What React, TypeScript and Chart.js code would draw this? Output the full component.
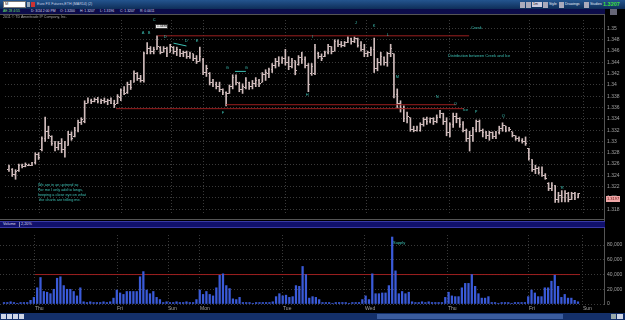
import React, { useEffect, useRef } from 'react';
import { Chart, registerables } from 'chart.js';
Chart.register(...registerables);

// ---------- DATA (hourly bars, Euro FX futures) ----------
const highs = [
  1.3258, 1.3252, 1.3250, 1.3260, 1.3260, 1.3262, 1.3260, 1.3263, 1.3280, 1.3280,
  1.3308, 1.3343, 1.3327, 1.3310, 1.3300, 1.3300, 1.3305, 1.3300, 1.3318, 1.3317,
  1.3325, 1.3338, 1.3342, 1.3372, 1.3377, 1.3375, 1.3377, 1.3378, 1.3375, 1.3377,
  1.3375, 1.3377, 1.3373, 1.3383, 1.3393, 1.3397, 1.3405, 1.3408, 1.3425, 1.3422,
  1.3417, 1.3458, 1.3475, 1.3468, 1.3467, 1.3487, 1.3468, 1.3468, 1.3467, 1.3472,
  1.3468, 1.3467, 1.3463, 1.3460, 1.3460, 1.3458, 1.3455, 1.3452, 1.3467, 1.3447,
  1.3435, 1.3422, 1.3410, 1.3405, 1.3405, 1.3393, 1.3388, 1.3400, 1.3418, 1.3418,
  1.3405, 1.3402, 1.3413, 1.3405, 1.3408, 1.3413, 1.3410, 1.3422, 1.3427, 1.3430,
  1.3438, 1.3447, 1.3450, 1.3450, 1.3463, 1.3450, 1.3447, 1.3443, 1.3452, 1.3458,
  1.3450, 1.3438, 1.3438, 1.3472, 1.3458, 1.3455, 1.3460, 1.3472, 1.3468, 1.3480,
  1.3480, 1.3477, 1.3477, 1.3485, 1.3483, 1.3485, 1.3483, 1.3477, 1.3472, 1.3460,
  1.3467, 1.3483, 1.3447, 1.3458, 1.3450, 1.3458, 1.3472, 1.3455, 1.3393, 1.3372,
  1.3363, 1.3352, 1.3342, 1.3327, 1.3327, 1.3333, 1.3342, 1.3343, 1.3342, 1.3342,
  1.3347, 1.3355, 1.3350, 1.3342, 1.3333, 1.3350, 1.3350, 1.3342, 1.3335, 1.3322,
  1.3318, 1.3325, 1.3338, 1.3338, 1.3322, 1.3318, 1.3318, 1.3317, 1.3318, 1.3327,
  1.3333, 1.3327, 1.3325, 1.3317, 1.3310, 1.3308, 1.3305, 1.3308, 1.3288, 1.3268,
  1.3258, 1.3255, 1.3255, 1.3243, 1.3227, 1.3227, 1.3222, 1.3210, 1.3213, 1.3213,
  1.3210, 1.3210, 1.3210, 1.3208,
];
const lows = [
  1.3247, 1.3238, 1.3233, 1.3247, 1.3253, 1.3255, 1.3257, 1.3257, 1.3260, 1.3268,
  1.3283, 1.3300, 1.3305, 1.3293, 1.3283, 1.3285, 1.3280, 1.3272, 1.3293, 1.3302,
  1.3308, 1.3317, 1.3330, 1.3333, 1.3368, 1.3367, 1.3370, 1.3368, 1.3367, 1.3368,
  1.3365, 1.3367, 1.3360, 1.3367, 1.3372, 1.3383, 1.3385, 1.3392, 1.3405, 1.3408,
  1.3405, 1.3405, 1.3455, 1.3455, 1.3455, 1.3463, 1.3455, 1.3458, 1.3450, 1.3458,
  1.3455, 1.3452, 1.3450, 1.3450, 1.3447, 1.3447, 1.3443, 1.3438, 1.3442, 1.3418,
  1.3415, 1.3400, 1.3397, 1.3393, 1.3388, 1.3383, 1.3363, 1.3385, 1.3393, 1.3400,
  1.3388, 1.3385, 1.3393, 1.3392, 1.3393, 1.3397, 1.3397, 1.3405, 1.3408, 1.3413,
  1.3422, 1.3430, 1.3433, 1.3438, 1.3435, 1.3427, 1.3430, 1.3418, 1.3435, 1.3438,
  1.3430, 1.3388, 1.3417, 1.3418, 1.3447, 1.3443, 1.3450, 1.3455, 1.3455, 1.3460,
  1.3468, 1.3467, 1.3468, 1.3475, 1.3472, 1.3475, 1.3467, 1.3460, 1.3450, 1.3450,
  1.3452, 1.3422, 1.3425, 1.3435, 1.3435, 1.3433, 1.3450, 1.3377, 1.3360, 1.3352,
  1.3335, 1.3333, 1.3318, 1.3317, 1.3318, 1.3318, 1.3327, 1.3330, 1.3333, 1.3330,
  1.3333, 1.3342, 1.3330, 1.3310, 1.3308, 1.3325, 1.3333, 1.3325, 1.3317, 1.3300,
  1.3283, 1.3300, 1.3317, 1.3317, 1.3308, 1.3305, 1.3302, 1.3305, 1.3305, 1.3313,
  1.3318, 1.3317, 1.3318, 1.3308, 1.3302, 1.3300, 1.3297, 1.3293, 1.3267, 1.3247,
  1.3243, 1.3242, 1.3238, 1.3233, 1.3213, 1.3213, 1.3192, 1.3192, 1.3193, 1.3193,
  1.3193, 1.3197, 1.3197, 1.3200,
];
const opens = [
  1.3250, 1.3250, 1.3242, 1.3248, 1.3257, 1.3255, 1.3258, 1.3258, 1.3262, 1.3277,
  1.3285, 1.3305, 1.3318, 1.3308, 1.3297, 1.3290, 1.3297, 1.3285, 1.3293, 1.3313,
  1.3308, 1.3320, 1.3333, 1.3335, 1.3368, 1.3372, 1.3370, 1.3375, 1.3370, 1.3373,
  1.3370, 1.3372, 1.3368, 1.3367, 1.3378, 1.3390, 1.3387, 1.3400, 1.3405, 1.3420,
  1.3412, 1.3408, 1.3455, 1.3465, 1.3460, 1.3463, 1.3467, 1.3458, 1.3465, 1.3458,
  1.3467, 1.3460, 1.3462, 1.3455, 1.3457, 1.3450, 1.3455, 1.3447, 1.3442, 1.3445,
  1.3422, 1.3420, 1.3405, 1.3400, 1.3397, 1.3392, 1.3387, 1.3385, 1.3397, 1.3413,
  1.3403, 1.3392, 1.3395, 1.3405, 1.3397, 1.3403, 1.3408, 1.3405, 1.3418, 1.3420,
  1.3427, 1.3435, 1.3442, 1.3440, 1.3447, 1.3440, 1.3433, 1.3443, 1.3437, 1.3448,
  1.3445, 1.3435, 1.3420, 1.3420, 1.3455, 1.3450, 1.3450, 1.3457, 1.3468, 1.3460,
  1.3477, 1.3472, 1.3470, 1.3475, 1.3482, 1.3477, 1.3483, 1.3470, 1.3463, 1.3455,
  1.3458, 1.3462, 1.3430, 1.3440, 1.3448, 1.3440, 1.3455, 1.3455, 1.3383, 1.3368,
  1.3358, 1.3340, 1.3342, 1.3322, 1.3320, 1.3320, 1.3330, 1.3338, 1.3335, 1.3340,
  1.3335, 1.3343, 1.3350, 1.3335, 1.3315, 1.3330, 1.3345, 1.3340, 1.3330, 1.3320,
  1.3305, 1.3310, 1.3322, 1.3335, 1.3320, 1.3315, 1.3310, 1.3315, 1.3308, 1.3315,
  1.3323, 1.3328, 1.3320, 1.3317, 1.3310, 1.3305, 1.3302, 1.3300, 1.3288, 1.3268,
  1.3250, 1.3252, 1.3245, 1.3240, 1.3225, 1.3217, 1.3222, 1.3197, 1.3205, 1.3200,
  1.3208, 1.3198, 1.3207, 1.3200,
];
const closes = [
  1.3255, 1.3242, 1.3247, 1.3257, 1.3255, 1.3260, 1.3258, 1.3262, 1.3277, 1.3272,
  1.3305, 1.3318, 1.3310, 1.3297, 1.3290, 1.3297, 1.3285, 1.3290, 1.3313, 1.3305,
  1.3320, 1.3333, 1.3338, 1.3368, 1.3372, 1.3370, 1.3375, 1.3370, 1.3373, 1.3370,
  1.3372, 1.3368, 1.3365, 1.3380, 1.3390, 1.3385, 1.3400, 1.3395, 1.3420, 1.3412,
  1.3408, 1.3455, 1.3465, 1.3460, 1.3463, 1.3468, 1.3458, 1.3465, 1.3455, 1.3468,
  1.3460, 1.3463, 1.3455, 1.3457, 1.3450, 1.3455, 1.3447, 1.3442, 1.3450, 1.3422,
  1.3430, 1.3405, 1.3400, 1.3397, 1.3392, 1.3387, 1.3385, 1.3397, 1.3413, 1.3405,
  1.3392, 1.3397, 1.3408, 1.3397, 1.3403, 1.3408, 1.3402, 1.3418, 1.3422, 1.3427,
  1.3435, 1.3442, 1.3438, 1.3447, 1.3440, 1.3433, 1.3443, 1.3425, 1.3448, 1.3445,
  1.3435, 1.3400, 1.3432, 1.3467, 1.3450, 1.3447, 1.3457, 1.3468, 1.3460, 1.3477,
  1.3472, 1.3470, 1.3475, 1.3482, 1.3477, 1.3483, 1.3470, 1.3463, 1.3455, 1.3458,
  1.3462, 1.3430, 1.3440, 1.3450, 1.3440, 1.3455, 1.3465, 1.3383, 1.3368, 1.3358,
  1.3340, 1.3345, 1.3322, 1.3320, 1.3325, 1.3330, 1.3338, 1.3335, 1.3340, 1.3335,
  1.3343, 1.3350, 1.3335, 1.3315, 1.3330, 1.3345, 1.3340, 1.3330, 1.3320, 1.3305,
  1.3310, 1.3322, 1.3335, 1.3320, 1.3315, 1.3310, 1.3315, 1.3308, 1.3315, 1.3323,
  1.3328, 1.3320, 1.3322, 1.3310, 1.3305, 1.3302, 1.3300, 1.3297, 1.3270, 1.3250,
  1.3252, 1.3245, 1.3240, 1.3235, 1.3217, 1.3222, 1.3197, 1.3205, 1.3200, 1.3208,
  1.3198, 1.3207, 1.3200, 1.3207,
];
const volumes = [
  2000, 2000, 3000, 2000, 1000, 2000, 2000, 2000, 5000, 9000,
  22000, 36000, 17000, 16000, 14000, 20000, 35000, 37000, 25000, 20000,
  20000, 17000, 11000, 22000, 3000, 2000, 3000, 2000, 2000, 2000,
  3000, 2000, 3000, 8000, 19000, 15000, 13000, 17000, 17000, 17000,
  17000, 37000, 44000, 19000, 14000, 17000, 9000, 6000, 2000, 3000,
  2000, 2000, 3000, 2000, 2000, 3000, 2000, 2000, 6000, 19000,
  13000, 17000, 13000, 11000, 22000, 39000, 41000, 25000, 21000, 7000,
  6000, 9000, 2000, 2000, 2000, 1000, 2000, 2000, 2000, 2000,
  2000, 3000, 10000, 14000, 11000, 12000, 9000, 10000, 25000, 24000,
  51000, 40000, 8000, 10000, 9000, 6000, 2000, 2000, 2000, 1000,
  2000, 2000, 2000, 2000, 1000, 2000, 2000, 2000, 6000, 11000,
  6000, 41000, 14000, 14000, 15000, 15000, 25000, 91000, 45000, 14000,
  17000, 14000, 16000, 3000, 2000, 2000, 3000, 2000, 3000, 2000,
  2000, 2000, 2000, 9000, 16000, 11000, 10000, 10000, 22000, 28000,
  28000, 40000, 24000, 14000, 8000, 8000, 10000, 2000, 2000, 1000,
  2000, 2000, 2000, 1000, 2000, 2000, 2000, 2000, 10000, 19000,
  15000, 10000, 10000, 22000, 22000, 31000, 39000, 24000, 9000, 13000,
  8000, 8000, 5000, 3000,
];
// session starts (in bar-index units) and their labels
const dayBreaks = [9.34, 34.06, 49.43, 59.07, 84.09, 108.8, 133.82, 158.23, 174.51];
const dayLabels = ['Thu', 'Fri', 'Sun', 'Mon', 'Tue', 'Wed', 'Thu', 'Fri', 'Sun'];
const priceTicks = [1.318, 1.32, 1.322, 1.324, 1.326, 1.328, 1.33, 1.332, 1.334, 1.336, 1.338, 1.34, 1.342, 1.344, 1.346, 1.348, 1.35];
const volumeTicks = [0, 20000, 40000, 60000, 80000];
// drawn levels: [startIndex, endIndex, price]
const creekLine = [45.2, 139.85, 1.3487];
const upperIceLine = [66.0, 135.9, 1.3365];
const iceLine = [32.55, 138.3, 1.3358];
const dLine = [50.0, 53.95, 1.3474, 1.3469];
const gLine = [68.7, 72.0, 1.3424, 1.3424];
const volumeLevel = [9.34, 173.6, 40000];

const FONT = "'Liberation Sans', Arial, sans-serif";
const BAR = '#d0bcbc';
const GRID = '#3a3a3a';
const RED = '#9c1f1f';
const TEAL = '#3cc0b4';
const X_MIN = -1.2056;
const X_MAX = 180.84;

function tickImg(side: 'l' | 'r') {
  const c = document.createElement('canvas');
  c.width = 3; c.height = 1;
  const g = c.getContext('2d')!;
  g.fillStyle = BAR;
  g.fillRect(side === 'l' ? 0 : 2, 0, 1, 1);
  return c;
}

function xScale(showLabels: boolean, h: number) {
  return {
    type: 'linear', min: X_MIN, max: X_MAX, offset: false,
    afterBuildTicks: (s: any) => { s.ticks = dayBreaks.map(v => ({ value: v })); },
    afterFit: (s: any) => { s.height = h; },
    ticks: {
      display: showLabels, autoSkip: false, maxRotation: 0, align: 'start', padding: 2,
      color: '#a0a0a0', font: { size: 5, family: FONT },
      callback: (_v: any, i: number) => dayLabels[i],
    },
    grid: { color: GRID, drawTicks: false, offset: false },
    border: { display: false, dash: [1, 2] },
  };
}

function PriceChart() {
  const ref = useRef<HTMLCanvasElement>(null);
  useEffect(() => {
    const seg = (a: number[], color: string) => ({
      type: 'line', data: [{ x: a[0], y: a[2] }, { x: a[1], y: a.length > 3 ? a[3] : a[2] }],
      borderColor: color, borderWidth: 1, pointRadius: 0, fill: false,
    });
    const chart = new Chart(ref.current!, {
      type: 'scatter',
      data: {
        datasets: [
          seg(creekLine, RED), seg(upperIceLine, RED), seg(iceLine, RED),
          seg(dLine, TEAL), seg(gLine, TEAL),
          { type: 'bar', data: highs.map((h, i) => ({ x: i, y: [lows[i], h] })), backgroundColor: BAR, barThickness: 1, borderWidth: 0 },
          { type: 'line', showLine: false, data: opens.map((v, i) => ({ x: i, y: v })), pointStyle: tickImg('l'), pointRadius: 1 },
          { type: 'line', showLine: false, data: closes.map((v, i) => ({ x: i, y: v })), pointStyle: tickImg('r'), pointRadius: 1 },
        ] as any,
      },
      options: {
        animation: false, responsive: false, devicePixelRatio: 1, events: [],
        layout: { padding: 0 },
        plugins: { legend: { display: false }, tooltip: { enabled: false } },
        scales: {
          x: xScale(false, 0) as any,
          y: {
            position: 'right', min: 1.31733, max: 1.3515,
            afterBuildTicks: (s: any) => { s.ticks = priceTicks.map(v => ({ value: v })); },
            afterFit: (s: any) => { s.width = 21; },
            ticks: { color: '#a0a0a0', font: { size: 5, family: FONT }, padding: 3, autoSkip: false, callback: (v: any) => String(v) },
            grid: { color: GRID, drawTicks: false },
            border: { display: false, dash: [1, 2] },
          },
        },
      } as any,
    });
    return () => chart.destroy();
  }, []);
  return <canvas ref={ref} width={625} height={205} style={{ position: 'absolute', left: 0, top: 14, width: 625, height: 205 }} />;
}

function VolumeChart() {
  const ref = useRef<HTMLCanvasElement>(null);
  useEffect(() => {
    const chart = new Chart(ref.current!, {
      type: 'scatter',
      data: {
        datasets: [
          { type: 'bar', data: volumes.map((v, i) => ({ x: i, y: v })), backgroundColor: '#3a5ad8', barThickness: 1.6, borderWidth: 0 },
          { type: 'line', data: [{ x: volumeLevel[0], y: volumeLevel[2] }, { x: volumeLevel[1], y: volumeLevel[2] }], borderColor: RED, borderWidth: 1, pointRadius: 0 },
        ] as any,
      },
      options: {
        animation: false, responsive: false, devicePixelRatio: 1, events: [],
        layout: { padding: 0 },
        plugins: { legend: { display: false }, tooltip: { enabled: false } },
        scales: {
          x: xScale(true, 9) as any,
          y: {
            position: 'right', min: 0, max: 93750,
            afterBuildTicks: (s: any) => { s.ticks = volumeTicks.map(v => ({ value: v })); },
            afterFit: (s: any) => { s.width = 21; },
            ticks: { color: '#a0a0a0', font: { size: 5, family: FONT }, padding: 3, autoSkip: false, callback: (v: any) => Number(v).toLocaleString('en-US') },
            grid: { color: GRID, drawTicks: false },
            border: { display: false, dash: [1, 2] },
          },
        },
      } as any,
    });
    return () => chart.destroy();
  }, []);
  return <canvas ref={ref} width={625} height={84} style={{ position: 'absolute', left: 0, top: 229, width: 625, height: 84 }} />;
}

const T = ({ x, y, s = 4, c = TEAL, b = false, children }: any) => (
  <div style={{ position: 'absolute', left: x, top: y, fontSize: s, lineHeight: 1, color: c, whiteSpace: 'pre', fontWeight: b ? 'bold' : 'normal' }}>{children}</div>
);
const Box = ({ x, y, w, h, bg, bd }: any) => (
  <div style={{ position: 'absolute', left: x, top: y, width: w, height: h, background: bg, border: bd ? `1px solid ${bd}` : undefined, boxSizing: 'border-box' }} />
);

const letters: [string, number, number][] = [
  ['A', 143, 33], ['B', 149, 33], ['C', 154, 20], ['D', 165, 37], ['D', 186, 41], ['E', 197, 41],
  ['F', 223, 113], ['G', 227, 68], ['G', 246, 68], ['H', 307, 95], ['I', 313, 37], ['J', 356, 23],
  ['K', 374, 26], ['L', 388, 35], ['M', 397, 77], ['N', 437, 97], ['O', 455, 104], ['P', 476, 112],
  ['Q', 503, 116], ['R', 562, 188],
];

export default function App() {
  return (
    <div style={{ position: 'fixed', left: 0, top: 0, width: 625, height: 320, background: '#000', overflow: 'hidden', fontFamily: FONT }}>
      {/* top toolbar */}
      <div style={{ position: 'absolute', left: 0, top: 0, width: 625, height: 9, background: 'linear-gradient(#24558f, #0e2d58)' }} />
      <Box x={3} y={1} w={23} h={7} bg="#fff" bd="#777" />
      <T x={5} y={2} s={4} c="#222">M</T>
      <Box x={27} y={2} w={3} h={5} bg="#9ab" />
      <Box x={31} y={2} w={4} h={5} bg="#c33" />
      <T x={37} y={2.5} s={3.6} c="#c9d3e6">Euro FX Futures,ETH (MAR14) (2)</T>
      <Box x={520} y={1.5} w={5} h={6} bg="#aab" />
      <Box x={526} y={1.5} w={5} h={6} bg="#aab" />
      <Box x={532} y={2} w={10} h={5} bg="#ccd" />
      <T x={533} y={2.5} s={3.5} c="#222">1m</T>
      <Box x={543} y={1.5} w={5} h={6} bg="#aab" />
      <T x={549} y={2.5} s={3.5} c="#e8eef8">Style</T>
      <Box x={559} y={1.5} w={5} h={6} bg="#aab" />
      <T x={565} y={2.5} s={3.5} c="#e8eef8">Drawings</T>
      <Box x={584} y={1.5} w={5} h={6} bg="#aab" />
      <T x={590} y={2.5} s={3.5} c="#e8eef8">Studies</T>
      <T x={603} y={1.5} s={5.5} c="#3fe03f" b>1.3207</T>
      {/* info row */}
      <div style={{ position: 'absolute', left: 0, top: 9, width: 605, height: 5, background: '#0c0c4a' }} />
      <T x={3} y={9.7} s={3.4} c="#6fe06f">AE 28 4:55</T>
      <T x={31} y={9.7} s={3.4} c="#dde">D: 3/24 2:00 PM</T>
      <T x={60} y={9.7} s={3.4} c="#dde">O: 1.3200</T>
      <T x={80} y={9.7} s={3.4} c="#dde">H: 1.3207</T>
      <T x={100} y={9.7} s={3.4} c="#dde">L: 1.3196</T>
      <T x={120} y={9.7} s={3.4} c="#dde">C: 1.3207</T>
      <T x={140} y={9.7} s={3.4} c="#dde">R: 0.0011</T>
      <Box x={610} y={9} w={7} h={6} bg="#667" />

      <PriceChart />
      <VolumeChart />

      {/* frame lines */}
      <Box x={0} y={14} w={605} h={1} bg="#555" />
      <Box x={604} y={14} w={1} h={291} bg="#555" />
      <Box x={0} y={219} w={605} h={1} bg="#555" />
      <T x={3} y={16} s={3.6} c="#a8a8a8">2011 © TD Ameritrade IP Company, Inc.</T>

      {/* volume header */}
      <div style={{ position: 'absolute', left: 0, top: 221, width: 605, height: 7, background: '#10106c', borderTop: '1px solid #3a3aa6', borderBottom: '1px solid #3a3aa6', boxSizing: 'border-box' }} />
      <T x={3} y={222.6} s={3.8} c="#dde">Volume</T>
      <Box x={19} y={222} w={1} h={5} bg="#88a" />
      <T x={21} y={222.6} s={3.8} c="#dde">2,20%</T>

      {/* annotations */}
      {letters.map(([t, x, y], i) => <T key={i} x={x - 1.3} y={y - 2} s={4}>{t}</T>)}
      <div style={{ position: 'absolute', left: 155, top: 24, width: 13, height: 5, background: '#e8e8e8', border: '1px solid #333', boxSizing: 'border-box' }} />
      <T x={157} y={24.8} s={3.3} c="#111">1.3488</T>
      <T x={471} y={26} s={4}>Creek</T>
      <T x={448} y={54} s={4}>Distribution between Creek and Ice</T>
      <T x={463} y={108} s={4}>Ice</T>
      <T x={38} y={184} s={3.8}>We are in an uptrend so</T>
      <T x={38} y={189} s={3.8}>For me I only add to longs,</T>
      <T x={38} y={194} s={3.8}>keeping a close eye on what</T>
      <T x={38} y={199} s={3.8}> the charts are telling me.</T>
      <T x={393} y={241} s={4}>Supply</T>
      <div style={{ position: 'absolute', left: 606, top: 196, width: 14, height: 6, background: '#f0a6a6' }} />
      <T x={607} y={197} s={4} c="#5a0a0a">1.3197</T>

      {/* bottom scroll bar */}
      <div style={{ position: 'absolute', left: 0, top: 313, width: 625, height: 7, background: '#14306a' }} />
      <div style={{ position: 'absolute', left: 377, top: 314, width: 186, height: 5, background: '#3a5c9e' }} />
      <Box x={1} y={314} w={5} h={5} bg="#cfd6e6" />
      <Box x={7} y={314} w={5} h={5} bg="#cfd6e6" />
      <Box x={13} y={314} w={5} h={5} bg="#cfd6e6" />
      <Box x={19} y={314} w={5} h={5} bg="#cfd6e6" />
      <Box x={611} y={314} w={5} h={5} bg="#9aa" />
      <Box x={617} y={314} w={6} h={5} bg="#cfd6e6" />
    </div>
  );
}
